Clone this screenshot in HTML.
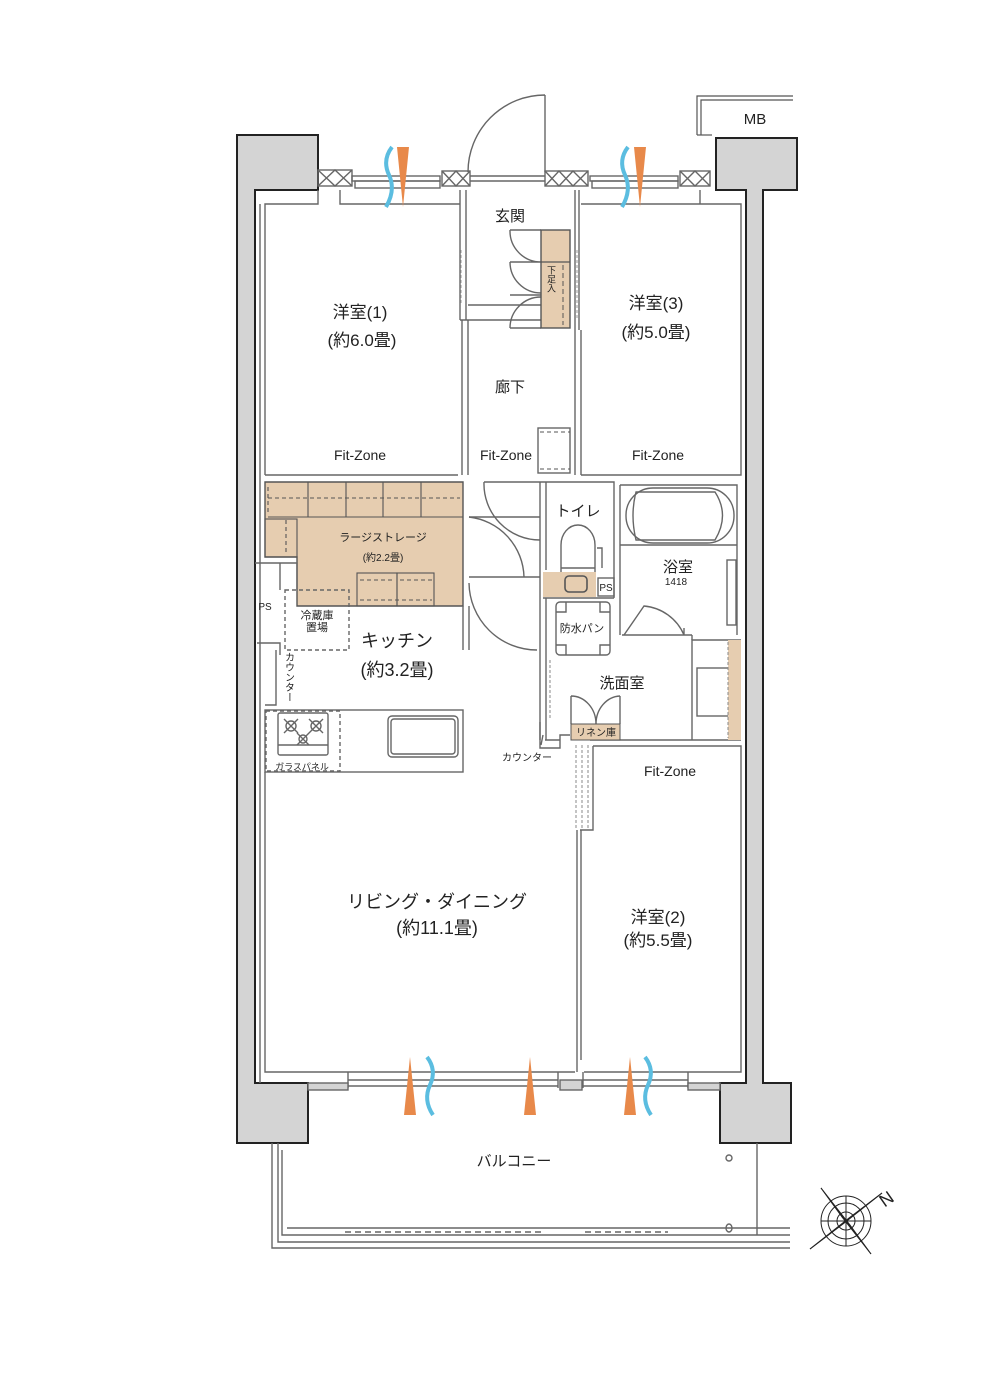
<!DOCTYPE html>
<html><head><meta charset="utf-8">
<style>
html,body{margin:0;padding:0;background:#fff;}
svg{display:block;}
text{font-family:"Liberation Sans","Noto Sans CJK JP",sans-serif;fill:#222;}
</style></head>
<body>
<svg width="1000" height="1374" viewBox="0 0 1000 1374" xmlns="http://www.w3.org/2000/svg">
<g stroke="#222" stroke-width="2" fill="#d4d4d4">
<path d="M237,135 H318 V190 H255 V1083 H308 V1143 H237 Z"/>
<path d="M716,138 H797 V190 H763 V1083 H791 V1143 H720 V1083 H746 V190 H716 Z"/>
</g>
<!-- MB -->
<path d="M697,135 V96 H793 M701,135 V100 H793" stroke="#555" fill="none" stroke-width="1.2"/>
<path d="M697,135 H712" stroke="#555" stroke-width="1.2"/>
<text x="755" y="124" font-size="15" text-anchor="middle">MB</text>

<g stroke="#666" stroke-width="1.4" fill="none">
<rect x="318" y="170" width="34" height="16"/><path d="M318,170 L335,186 L352,170 M318,186 L335,170 L352,186"/>
<rect x="442" y="171" width="28" height="15"/><path d="M442,171 L456,186 L470,171 M442,186 L456,171 L470,186"/>
<rect x="545" y="171" width="43" height="15"/><path d="M545,171 L559,186 L573,171 L588,186 M545,186 L559,171 L573,186 L588,171"/>
<rect x="680" y="171" width="30" height="15"/><path d="M680,171 L695,186 L710,171 M680,186 L695,171 L710,186"/>
<rect x="352" y="176" width="88" height="5"/><rect x="355" y="181" width="85" height="7"/>
<rect x="590" y="176" width="88" height="5"/><rect x="592" y="181" width="86" height="7"/>
<path d="M470,176 H545 M470,181 H545"/>
<path d="M545,95 V172 M545,95 A77,77 0 0 0 468,172"/>
<path d="M265,475 V204 H318 V190 M340,190 V204 H460 M265,475 H458"/>
<path d="M260,204 V1083"/>
<path d="M460,190 V320 M466,190 V320 M462,320 V475 M468,320 V475 M460,320 H468"/>
<path d="M575,190 V330 M579,190 V330 M575,330 V475 M581,330 V475"/>
<path d="M468,305 H541 M468,320 H541"/>
<path d="M581,204 H700 V190 M700,204 H741 V475 H581"/>
<path d="M541,230 H510 M510,230 A31,31 0 0 0 541,262 M541,262 H510 M510,262 A31,31 0 0 0 541,293 M541,295 H510 M510,328 A31,31 0 0 1 541,297 M510,328 H541"/>
<rect x="538" y="428" width="32" height="45"/>
</g>
<rect x="541" y="230" width="29" height="98" fill="#e6cdb0" stroke="#555" stroke-width="1.4"/>
<path d="M541,262 H570" stroke="#555" stroke-width="1.2"/>
<path d="M563,265 V325" stroke="#555" stroke-dasharray="5,3"/>
<path d="M540,432 H570 M540,469 H570" stroke="#555" stroke-dasharray="4,3"/>
<path d="M461,250 V305 M577,250 V320" stroke="#999" stroke-dasharray="3,2"/>

<path d="M265,482 H463 V606 H297 V557 H265 Z" fill="#e6cdb0" stroke="#555" stroke-width="1.4"/>
<g stroke="#555" stroke-width="1.1" fill="none">
<path d="M268,517 H463"/>
<path d="M308,482 V517 M346,482 V517 M383,482 V517 M421,482 V517"/>
<path d="M268,487 V515 M268,498 H460" stroke-dasharray="4,3"/>
<rect x="265" y="519" width="32" height="38"/>
<path d="M286,520 V555" stroke-dasharray="4,3"/>
<rect x="357" y="573" width="40" height="33"/><rect x="397" y="573" width="37" height="33"/>
<path d="M360,580 H395 M400,580 H432 M360,600 H432" stroke-dasharray="4,3"/>
</g>
<g stroke="#666" stroke-width="1.4" fill="none">
<path d="M255,563 H297 V590 M257,643 H280 V655 M280,563 V590"/>
<rect x="285" y="590" width="64" height="60" stroke-dasharray="4,3"/>
<path d="M463,606 V650 M469,606 V650"/>
<path d="M276,650 V705 H265"/>
<rect x="265" y="710" width="198" height="62"/>
<rect x="388" y="716" width="70" height="41" rx="4"/>
<rect x="391" y="719" width="64" height="35" rx="3"/>
<rect x="278" y="713" width="50" height="42" rx="2"/>
<path d="M278,745 H328"/>
<rect x="266" y="711" width="74" height="60" stroke-dasharray="4,3"/>
<circle cx="291" cy="726" r="5"/><circle cx="316" cy="726" r="5"/><circle cx="303" cy="739" r="4"/>
<path d="M284,719 L298,733 M298,719 L284,733 M309,719 L323,733 M323,719 L309,733 M297,733 L309,745 M309,733 L297,745"/>
<path d="M469,517 L540,517 M469,577 L540,577"/>
<path d="M469,517 A62,62 0 0 1 524,577"/>
<path d="M540,482 H484 M484,482 A56,56 0 0 0 540,540"/>
<path d="M469,583 A68,68 0 0 0 537,650"/>
<path d="M540,482 H614 V598 M540,482 V740 M546,482 V570 M546,598 V740"/>
<path d="M543,598 H614"/>
<rect x="598" y="578" width="16" height="18"/>
<path d="M561,578 V545 A17,20 0 0 1 595,545 V578" />
<path d="M561,568 H595 M597,548 H602 V568"/>
<path d="M620,485 H737 V635 M620,485 V635 M620,545 H737 M622,635 H692 M692,635 V640"/>
<rect x="626" y="488" width="108" height="55" rx="27"/>
<path d="M636,492 H715 Q730,515 715,540 H636 Q630,515 636,492 Z"/>
<rect x="727" y="560" width="9" height="65"/>
<path d="M624,635 L644,606 A48,48 0 0 1 684,635 M684,635 V628"/>
<path d="M741,640 H692 V740 M590,740 H741 M545,740 H560"/>
<rect x="556" y="602" width="54" height="53" rx="4"/>
<path d="M556,612 H566 V602 M600,602 V612 H610 M556,645 H566 V655 M610,645 H600 V655"/>
<rect x="697" y="668" width="41" height="48"/>
<path d="M571,724 V696 M571,696 A25,28 0 0 1 596,724 M620,724 V696 M620,696 A25,28 0 0 0 596,724"/>
<path d="M540,722 V748 H560 V735 H570 M543,735 L541,745"/>
<path d="M593,746 H741 V1072 H584 M593,746 V830 H580 M577,830 V1072 M581,830 V1060"/>
<path d="M265,772 V1072 H575"/>
</g>
<path d="M728,640 H741 V740 H728 Z" fill="#e6cdb0"/>
<path d="M728,642 V738" stroke="#888" stroke-dasharray="3,2"/>
<rect x="571" y="724" width="49" height="16" fill="#e6cdb0" stroke="#555"/>
<path d="M543,572 H596 V597 H543 Z" fill="#e6cdb0"/>
<rect x="565" y="576" width="22" height="16" rx="4" fill="#e6cdb0" stroke="#555" stroke-width="1.6"/>
<path d="M576,745 V830 M582,745 V830 M588,745 V830" stroke="#888" stroke-dasharray="3,2"/>
<path d="M550,660 V720" stroke="#888" stroke-dasharray="3,2"/>

<g stroke="#666" stroke-width="1.4" fill="none">
<path d="M348,1072 V1088 M558,1072 V1088 M348,1080 H558 M348,1086 H558"/>
<path d="M583,1072 V1088 M688,1072 V1088 M583,1080 H688 M583,1086 H688"/>
<rect x="560" y="1080" width="22" height="10" fill="#d4d4d4"/>
<rect x="308" y="1083" width="40" height="7" fill="#d4d4d4"/>
<rect x="688" y="1083" width="32" height="7" fill="#d4d4d4"/>
<path d="M272,1143 V1248 H790 M278,1143 V1242 H790 M282,1150 V1235 H790 M287,1228 H790 M757,1143 V1235"/>
<path d="M345,1232 H545 M585,1232 H668" stroke-dasharray="6,4"/>
<circle cx="729" cy="1158" r="3"/><ellipse cx="729" cy="1228" rx="3" ry="4"/>
</g>

<g fill="#e8894a">
<polygon points="397,147 409,147 403,207"/>
<polygon points="634,147 646,147 640,207"/>
<polygon points="404,1115 416,1115 410,1057"/>
<polygon points="524,1115 536,1115 530,1057"/>
<polygon points="624,1115 636,1115 630,1057"/>
</g>
<g fill="none" stroke="#5bbde0" stroke-width="4">
<path d="M392,147 Q382,160 389,175 Q396,190 386,207"/>
<path d="M628,147 Q618,160 625,175 Q632,190 622,207"/>
<path d="M427,1057 Q437,1070 430,1085 Q423,1100 433,1115"/>
<path d="M645,1057 Q655,1070 648,1085 Q641,1100 651,1115"/>
</g>

<g stroke="#222" stroke-width="1" fill="none" transform="translate(846,1221)">
<circle r="25"/><circle r="18"/><circle r="9"/>
<path d="M-25,-33 L25,33 M-36,28 L36,-28 M-25,0 L25,0 M0,-25 L0,25"/>
<path d="M-4,-4 L-25,-33 L4,4 Z M4,4 L25,33 L-4,-4 Z M-3,3 L-36,28 L3,-3 Z M3,-3 L36,-28 L-3,3 Z" fill="#222"/>
</g>
<text x="890" y="1204" font-size="18" transform="rotate(-35 890 1204)" text-anchor="middle">N</text>

<g text-anchor="middle">
<text x="360" y="318" font-size="17">洋室(1)</text>
<text x="362" y="346" font-size="17">(約6.0畳)</text>
<text x="510" y="221" font-size="15">玄関</text>
<text x="656" y="309" font-size="17">洋室(3)</text>
<text x="656" y="338" font-size="17">(約5.0畳)</text>
<text x="510" y="392" font-size="15">廊下</text>
<text x="360" y="460" font-size="14">Fit-Zone</text>
<text x="506" y="460" font-size="14">Fit-Zone</text>
<text x="658" y="460" font-size="14">Fit-Zone</text>
<text x="670" y="776" font-size="14">Fit-Zone</text>
<text x="383" y="541" font-size="11">ラージストレージ</text>
<text x="383" y="561" font-size="10">(約2.2畳)</text>
<text x="578" y="516" font-size="15">トイレ</text>
<text x="678" y="572" font-size="15">浴室</text>
<text x="676" y="585" font-size="10">1418</text>
<text x="265" y="610" font-size="10">PS</text>
<text x="606" y="591" font-size="10">PS</text>
<text x="317" y="619" font-size="11">冷蔵庫</text>
<text x="317" y="631" font-size="11">置場</text>
<text x="397" y="647" font-size="18">キッチン</text>
<text x="397" y="676" font-size="18">(約3.2畳)</text>
<text x="582" y="632" font-size="11">防水パン</text>
<text x="622" y="688" font-size="15">洗面室</text>
<text x="596" y="736" font-size="10">リネン庫</text>
<text x="527" y="761" font-size="10">カウンター</text>
<text x="302" y="770" font-size="9">ガラスパネル</text>
<text x="437" y="908" font-size="18">リビング・ダイニング</text>
<text x="437" y="934" font-size="18">(約11.1畳)</text>
<text x="658" y="923" font-size="17">洋室(2)</text>
<text x="658" y="946" font-size="17">(約5.5畳)</text>
<text x="514" y="1166" font-size="15">バルコニー</text>
</g>
<text x="551" y="279" font-size="9" style="writing-mode:vertical-rl" text-anchor="middle">下足入</text>
<text x="288" y="677" font-size="10" style="writing-mode:vertical-rl" text-anchor="middle">カウンター</text>
</svg>
</body></html>
